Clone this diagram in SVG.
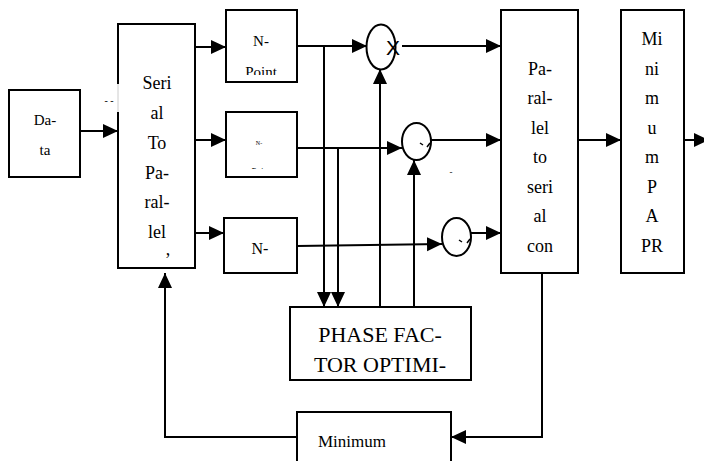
<svg xmlns="http://www.w3.org/2000/svg" width="704" height="461" viewBox="0 0 704 461">
<style>
.box{fill:#fff;stroke:#000;stroke-width:2}
.ln{fill:none;stroke:#000;stroke-width:2}
.t{font-family:"Liberation Serif","Times New Roman",serif;fill:#000;text-anchor:middle}
.s18{font-size:18px}
</style>
<defs>
<marker id="ah" markerUnits="userSpaceOnUse" markerWidth="16" markerHeight="15" refX="15" refY="7" orient="auto">
<path d="M0,0 L15,7 L0,14 z" fill="#000"/>
</marker>
<clipPath id="c1"><rect x="226" y="55" width="71" height="20"/></clipPath>
<clipPath id="c2"><rect x="226" y="164" width="71" height="5"/></clipPath>
</defs>
<g id="connectors" class="ln">
<path d="M80,131 H118" marker-end="url(#ah)"/>
<path d="M195,47 H226" marker-end="url(#ah)"/>
<path d="M195,140 H226" marker-end="url(#ah)"/>
<path d="M195,233 H224" marker-end="url(#ah)"/>
<path d="M297,46 H367" marker-end="url(#ah)"/>
<path d="M324,46 V307" marker-end="url(#ah)"/>
<path d="M297,148 H402" marker-end="url(#ah)"/>
<path d="M338,148 V307" marker-end="url(#ah)"/>
<path d="M297,246 L442,244" marker-end="url(#ah)"/>
<path d="M380,307 V69" marker-end="url(#ah)"/>
<path d="M414,307 V160" marker-end="url(#ah)"/>
<path d="M402,46 H501" marker-end="url(#ah)"/>
<path d="M431,140 H501" marker-end="url(#ah)"/>
<path d="M471,233 H501" marker-end="url(#ah)"/>
<path d="M578,140 H621" marker-end="url(#ah)"/>
<path d="M684,140 H709" marker-end="url(#ah)"/>
<path d="M542,273 V437 H451" marker-end="url(#ah)"/>
<path d="M297,437 H165 V273" marker-end="url(#ah)"/>
</g>
<g id="data">
<rect class="box" x="9" y="90" width="71" height="87"/>
<text class="t" font-size="15" x="45" y="125">Da-</text>
<text class="t" font-size="15" x="45" y="155">ta</text>
</g>
<g id="serial-to-parallel">
<rect x="118" y="24" width="77" height="244" fill="#fff"/>
<path class="ln" d="M118,84 V24 H195 V268 H118 V112"/>
<path d="M118,84 V112" stroke="#ccc" stroke-width="1"/>
<text class="t" font-size="10" x="109" y="104">- -</text>
<text class="t s18" x="157" y="89">Seri</text>
<text class="t s18" x="157" y="119">al</text>
<text class="t s18" x="157" y="149">To</text>
<text class="t s18" x="157" y="179">Pa-</text>
<text class="t s18" x="157" y="208">ral-</text>
<text class="t s18" x="157" y="238">lel</text>
<text class="t s18" x="168" y="255">,</text>
</g>
<g id="npoint1">
<rect class="box" x="226" y="10" width="71" height="72"/>
<text class="t" font-size="15" x="261" y="46">N-</text>
<text class="t" font-size="15" x="261" y="77" clip-path="url(#c1)">Point</text>
</g>
<g id="npoint2">
<rect class="box" x="226" y="112" width="71" height="65"/>
<text class="t" font-size="6" x="259" y="145">N-</text>
<text class="t" font-size="9" x="261" y="174" fill="#444" clip-path="url(#c2)">Point</text>
</g>
<g id="npoint3">
<rect class="box" x="224" y="218" width="73" height="55"/>
<text class="t" font-size="16" x="260" y="254">N-</text>
</g>
<g id="mult1">
<ellipse class="box" cx="381" cy="47" rx="14.5" ry="22.5"/>
<text x="393" y="55" font-family="Liberation Sans,Arial,sans-serif" font-size="21" text-anchor="middle">X</text>
</g>
<g id="mult2">
<ellipse class="box" cx="416.5" cy="141.5" rx="14.5" ry="18.5"/>
<path d="M420,143 L423,145 M427,147 L430,143" stroke="#000" stroke-width="1.5" fill="none"/>
</g>
<g id="mult3">
<ellipse class="box" cx="456.5" cy="237" rx="14.5" ry="19"/>
<path d="M459,240 L462,242 M467,243 L470,239" stroke="#000" stroke-width="1.5" fill="none"/>
</g>
<text class="t" font-size="9" x="451" y="175">-</text>
<g id="parallel-to-serial">
<rect class="box" x="501" y="10" width="77" height="263"/>
<text class="t s18" x="540" y="75">Pa-</text>
<text class="t s18" x="540" y="104">ral-</text>
<text class="t s18" x="540" y="134">lel</text>
<text class="t s18" x="540" y="163">to</text>
<text class="t s18" x="540" y="193">seri</text>
<text class="t s18" x="540" y="222">al</text>
<text class="t s18" x="540" y="252">con</text>
</g>
<g id="minimum-papr">
<rect class="box" x="621" y="10" width="63" height="263"/>
<text class="t s18" x="652" y="45">Mi</text>
<text class="t s18" x="652" y="75">ni</text>
<text class="t s18" x="652" y="104">m</text>
<text class="t s18" x="652" y="134">u</text>
<text class="t s18" x="652" y="163">m</text>
<text class="t s18" x="652" y="193">P</text>
<text class="t s18" x="652" y="222">A</text>
<text class="t s18" x="652" y="252">PR</text>
</g>
<g id="phase-factor">
<rect class="box" x="290" y="307" width="181" height="73"/>
<text class="t" font-size="22" x="380" y="342">PHASE FAC-</text>
<text class="t" font-size="22" x="380" y="372">TOR OPTIMI-</text>
</g>
<g id="minimum">
<rect class="box" x="297" y="412" width="154" height="60"/>
<text class="t" font-size="17" x="352" y="447">Minimum</text>
</g>
</svg>
